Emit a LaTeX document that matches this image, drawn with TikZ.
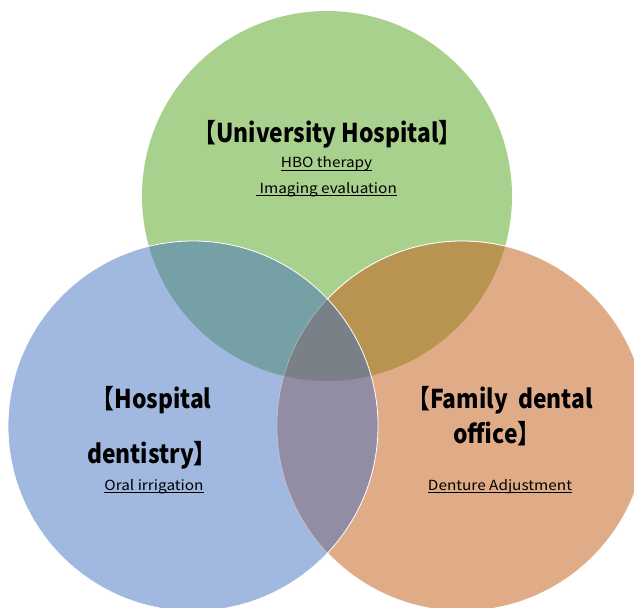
\documentclass[tikz,border=0pt]{standalone}
\usepackage{fontspec}
\newfontfamily\jphead[FakeStretch=0.88]{Noto Sans CJK JP}
\newfontfamily\jpitem[FakeStretch=1.1]{Noto Sans CJK JP}
\definecolor{cgreen}{RGB}{169,209,142}
\definecolor{cblue}{RGB}{161,184,224}
\definecolor{corange}{RGB}{224,172,136}
\definecolor{cgb}{RGB}{117,160,166}
\definecolor{cgo}{RGB}{184,148,80}
\definecolor{cbo}{RGB}{146,140,165}
\definecolor{call}{RGB}{122,128,136}
% underline at a fixed depth below the baseline
\newcommand\itemline[1]{\setbox0=\hbox{#1}\rlap{\rule[-2.4bp]{\wd0}{0.7bp}}\box0}
\tikzset{
  head/.style={inner sep=0pt, anchor=base, font=\jphead\bfseries\fontsize{26}{30}\selectfont},
  item/.style={inner sep=0pt, anchor=base, font=\jpitem\fontsize{14}{17}\selectfont},
  rim/.style={white, line width=0.8bp}
}
\begin{document}
\begin{tikzpicture}[x=1bp, y=-1bp]
\useasboundingbox (0,0) rectangle (634,608);
\def\R{185bp}
\coordinate (cg) at (327,196);
\coordinate (cb) at (193,426);
\coordinate (co) at (462,426);
% base discs
\fill[cgreen] (cg) circle[radius=\R];
\fill[cblue] (cb) circle[radius=\R];
\fill[corange] (co) circle[radius=\R];
% overlaps with the green disc
\begin{scope}
  \clip (cg) circle[radius=\R];
  \fill[cgb] (cb) circle[radius=\R];
  \fill[cgo] (co) circle[radius=\R];
\end{scope}
% blue/orange overlap and the common centre
\begin{scope}
  \clip (cb) circle[radius=\R];
  \fill[cbo] (co) circle[radius=\R];
  \clip (cg) circle[radius=\R];
  \fill[call] (co) circle[radius=\R];
\end{scope}
% rims
\draw[rim, opacity=0.3] (co) circle[radius=\R];
\begin{scope}[even odd rule]
  \clip (-10,-10) rectangle (700,700) (cb) circle[radius=\R];
  \draw[rim] (co) circle[radius=\R];
\end{scope}
\draw[rim] (cb) circle[radius=\R];
% labels
\node[head] (uh) at (327.5,143) {【University Hospital】};
\node[item] (hbo) at (326.5,168) {\itemline{HBO therapy}};
\node[item] (img) at (326.5,193) {\itemline{\ Imaging evaluation}};
\node[head] (hd1) at (151.5,408) {【Hospital};
\node[head] (hd2) at (152,463) {dentistry】};
\node[item] (oral) at (154,490) {\itemline{Oral irrigation}};
\node[head] (fd1) at (500,408) {【Family\hspace{5bp} dental};
\node[head] (fd2) at (497,443) {office】};
\node[item] (den) at (500,490) {\itemline{Denture Adjustment}};
\end{tikzpicture}
\end{document}
